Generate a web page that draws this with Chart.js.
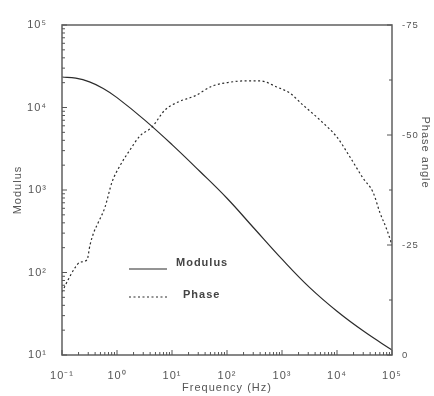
<!DOCTYPE html>
<html>
<head>
<meta charset="utf-8">
<script src="https://cdn.jsdelivr.net/npm/chart.js@4.4.1/dist/chart.umd.min.js"></script>
<style>
  html, body { margin: 0; padding: 0; background: #fff; }
  #wrap { width: 434px; height: 396px; }
</style>
</head>
<body>
<div id="wrap"><canvas id="myChart" width="434" height="396"></canvas></div>
<script>
// modulus vs frequency
const modFreq = [0.1, 0.178, 0.316, 0.562, 1, 3.16, 10, 31.6, 100, 316, 1000, 3162, 10000, 31620, 100000];
const modulus = [23440, 22650, 20420, 17000, 13180, 7080, 3550, 1700, 794, 339, 145, 66, 33.9, 19.1, 11.5];

// phase angle vs frequency
const phaseFreq = [0.1, 0.128, 0.172, 0.212, 0.285, 0.323, 0.382, 0.452, 0.605, 0.811, 1.13, 1.72, 2.62, 4.33, 7.46, 12.9, 26.2, 53.4, 113, 212, 398, 811, 1397, 2410, 4910, 10000, 17220, 29700, 45200, 60500, 81100, 100000];
const phase = [-14.3, -17, -19.8, -21.1, -21.6, -25, -28, -30, -33.6, -39.3, -43, -46.6, -49.8, -51.8, -55.7, -57.5, -58.9, -61.1, -62, -62.3, -62.3, -60.9, -59.5, -56.8, -53.4, -49.5, -45, -40.2, -37, -32.3, -28.4, -25];

// axis ticks
const freqDecades = [-1, 0, 1, 2, 3, 4, 5];
const modDecades = [1, 2, 3, 4, 5];
const phaseTicks = [-75, -62.5, -50, -37.5, -25, -12.5, 0];

const sup = { "-": "⁻", "0": "⁰", "1": "¹", "2": "²", "3": "³", "4": "⁴", "5": "⁵" };
const powLabel = (e) => "10" + String(e).split("").map((c) => sup[c]).join("");

// decades plus 2..9 minor ticks
const logTicks = (decades) => {
  const out = [];
  decades.forEach((d, i) => {
    out.push({ value: Math.pow(10, d), major: true });
    if (i < decades.length - 1) {
      for (let m = 2; m <= 9; m++) out.push({ value: m * Math.pow(10, d), major: false });
    }
  });
  return out;
};

const decadeLabel = (v) => {
  const e = Math.log10(v);
  return Math.abs(e - Math.round(e)) < 1e-6 ? powLabel(Math.round(e)) : "";
};

const textColor = "#555";
const lineColor = "#2b2b2b";
const family = "'Liberation Sans', Arial, sans-serif";
const tickFont = { family: family, size: 11 };
const titleFont = { family: family, size: 11 };

// wider letter spacing like the scanned figure
const spacingPlugin = {
  id: "spacing",
  beforeUpdate(chart) { chart.ctx.letterSpacing = "1px"; },
  beforeDraw(chart) { chart.ctx.letterSpacing = "1px"; },
};

// frame, inward ticks, right title and legend
const framePlugin = {
  id: "frame",
  afterDraw(chart) {
    const { ctx, chartArea: a } = chart;
    ctx.save();
    ctx.strokeStyle = "#6a6a6a";
    ctx.lineWidth = 1.6;
    ctx.strokeRect(a.left, a.top, a.right - a.left, a.bottom - a.top);

    ctx.lineWidth = 1;
    ctx.strokeStyle = "#555";
    const x = chart.scales.x;
    x.ticks.forEach((t) => {
      const p = x.getPixelForValue(t.value);
      const len = t.major ? 5 : 3;
      ctx.beginPath();
      ctx.moveTo(p, a.bottom);
      ctx.lineTo(p, a.bottom - len);
      ctx.stroke();
    });
    const y = chart.scales.y;
    y.ticks.forEach((t) => {
      const p = y.getPixelForValue(t.value);
      const len = t.major ? 5 : 3;
      ctx.beginPath();
      ctx.moveTo(a.left, p);
      ctx.lineTo(a.left + len, p);
      ctx.stroke();
    });
    const y2 = chart.scales.y2;
    y2.ticks.forEach((t) => {
      const p = y2.getPixelForValue(t.value);
      const len = t.value % 25 === 0 ? 5 : 3;
      ctx.beginPath();
      ctx.moveTo(a.right, p);
      ctx.lineTo(a.right - len, p);
      ctx.stroke();
    });

    // right axis title, sits a bit above centre in the original
    ctx.save();
    ctx.translate(a.right + 33, y2.getPixelForValue(-46));
    ctx.rotate(Math.PI / 2);
    ctx.fillStyle = textColor;
    ctx.font = "11px " + family;
    ctx.letterSpacing = "1px";
    ctx.textAlign = "center";
    ctx.textBaseline = "middle";
    ctx.fillText("Phase angle", 0, 0);
    ctx.restore();

    // legend inside the plot
    const lx = a.left + 67;
    const rows = [
      { ds: chart.data.datasets[0], y: a.top + 238, ly: a.top + 244, tx: a.left + 114 },
      { ds: chart.data.datasets[1], y: a.top + 270, ly: a.top + 272, tx: a.left + 121 },
    ];
    rows.forEach((r) => {
      ctx.strokeStyle = r.ds.borderColor;
      ctx.lineWidth = r.ds.borderWidth;
      ctx.setLineDash(r.ds.borderDash || []);
      ctx.beginPath();
      ctx.moveTo(lx, r.ly);
      ctx.lineTo(lx + 38, r.ly);
      ctx.stroke();
      ctx.setLineDash([]);
      ctx.fillStyle = "#444";
      ctx.font = "bold 11px " + family;
      ctx.letterSpacing = "1px";
      ctx.textBaseline = "middle";
      ctx.fillText(r.ds.label, r.tx, r.y);
    });
    ctx.restore();
  },
};

const data = {
  datasets: [
    {
      label: "Modulus",
      data: modFreq.map((f, i) => ({ x: f, y: modulus[i] })),
      borderColor: lineColor,
      borderWidth: 1.2,
      pointRadius: 0,
      tension: 0.4,
      yAxisID: "y",
    },
    {
      label: "Phase",
      data: phaseFreq.map((f, i) => ({ x: f, y: phase[i] })),
      borderColor: lineColor,
      borderWidth: 1.2,
      borderDash: [2, 2.5],
      pointRadius: 0,
      cubicInterpolationMode: "monotone",
      yAxisID: "y2",
    },
  ],
};

const config = {
  type: "line",
  data: data,
  options: {
    responsive: false,
    animation: false,
    layout: { padding: { top: 25, left: 0, right: 0, bottom: 0 } },
    plugins: { legend: { display: false }, tooltip: { enabled: false } },
    scales: {
      x: {
        type: "logarithmic",
        min: 0.1,
        max: 100000,
        afterBuildTicks: (s) => { s.ticks = logTicks(freqDecades); },
        afterFit: (s) => { s.height = 41; },
        grid: { display: false },
        border: { display: false },
        ticks: { autoSkip: false, maxRotation: 0, padding: 6, color: textColor, font: tickFont, callback: decadeLabel },
        title: { display: true, text: "Frequency (Hz)", color: textColor, font: titleFont, padding: { top: 0, bottom: 1 } },
      },
      y: {
        type: "logarithmic",
        position: "left",
        min: 10,
        max: 100000,
        afterBuildTicks: (s) => { s.ticks = logTicks(modDecades); },
        afterFit: (s) => { s.width = 62; },
        grid: { display: false },
        border: { display: false },
        ticks: { autoSkip: false, padding: 7, color: textColor, font: tickFont, callback: decadeLabel },
        title: { display: true, text: "Modulus", color: textColor, font: titleFont, padding: { top: 11, bottom: 0 } },
      },
      y2: {
        type: "linear",
        position: "right",
        min: -75,
        max: 0,
        reverse: true,
        afterBuildTicks: (s) => { s.ticks = phaseTicks.map((v) => ({ value: v })); },
        afterFit: (s) => { s.width = 42; },
        grid: { display: false },
        border: { display: false },
        ticks: {
          autoSkip: false,
          padding: 2,
          color: textColor,
          font: { family: family, size: 9.5 },
          callback: (v) => (v % 25 === 0 ? String(v) : ""),
        },
        title: { display: false },
      },
    },
  },
  plugins: [spacingPlugin, framePlugin],
};

let myChart = new Chart(document.getElementById("myChart"), config);
</script>
</body>
</html>
